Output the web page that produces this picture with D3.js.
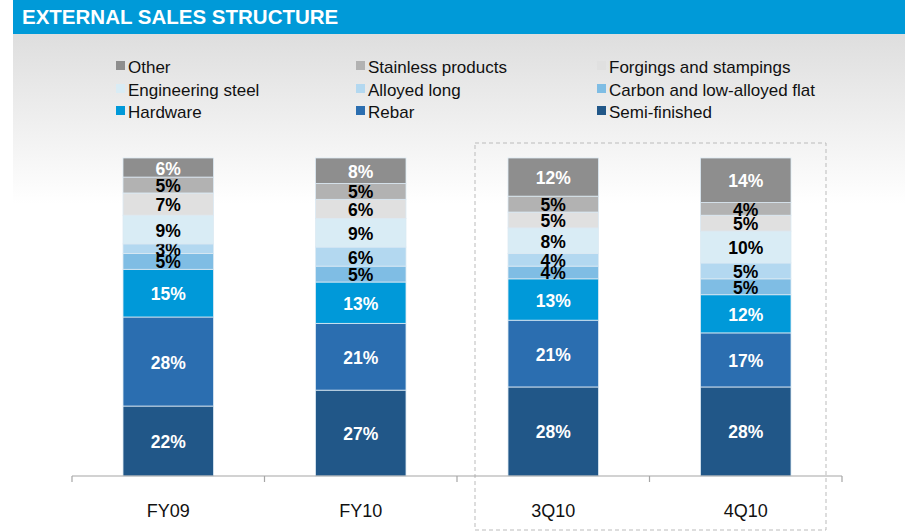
<!DOCTYPE html>
<html>
<head>
<meta charset="utf-8">
<script src="https://cdn.jsdelivr.net/npm/d3@7"></script>
<style>
  body { margin: 0; background: #fff; }
  svg { display: block; font-family: "Liberation Sans", Arial, sans-serif; }
</style>
</head>
<body>
<div id="chart"></div>
<script>
// data
var categories = ['FY09', 'FY10', '3Q10', '4Q10'];
var series = ['Semi-finished', 'Rebar', 'Hardware', 'Carbon and low-alloyed flat',
              'Alloyed long', 'Engineering steel', 'Forgings and stampings',
              'Stainless products', 'Other'];
var semiFinished = [22, 27, 28, 28];
var rebar        = [28, 21, 21, 17];
var hardware     = [15, 13, 13, 12];
var carbonFlat   = [5, 5, 4, 5];
var alloyedLong  = [3, 6, 4, 5];
var engineering  = [9, 9, 8, 10];
var forgings     = [7, 6, 5, 5];
var stainless    = [5, 5, 5, 4];
var other        = [6, 8, 12, 14];
var legendOrder = ['Other', 'Stainless products', 'Forgings and stampings',
                   'Engineering steel', 'Alloyed long', 'Carbon and low-alloyed flat',
                   'Hardware', 'Rebar', 'Semi-finished'];

var colors = {
    'Semi-finished': '#215788',
    'Rebar': '#2b6eb0',
    'Hardware': '#0099d9',
    'Carbon and low-alloyed flat': '#7fbde4',
    'Alloyed long': '#b3d8f0',
    'Engineering steel': '#d9ecf5',
    'Forgings and stampings': '#e0e0e0',
    'Stainless products': '#b2b2b2',
    'Other': '#8e8e8e'
};
var whiteText = {'Semi-finished': 1, 'Rebar': 1, 'Hardware': 1, 'Other': 1};

var values = [semiFinished, rebar, hardware, carbonFlat, alloyedLong,
              engineering, forgings, stainless, other];
var table = categories.map(function(c, i) {
    var row = {cat: c};
    series.forEach(function(s, j) { row[s] = values[j][i]; });
    return row;
});

var W = 908, H = 532;
var svg = d3.select('#chart').append('svg').attr('width', W).attr('height', H);

// background gradient under header
var defs = svg.append('defs');
var grad = defs.append('linearGradient').attr('id', 'bg').attr('x1', 0).attr('y1', 0).attr('x2', 0).attr('y2', 1);
grad.append('stop').attr('offset', '0%').attr('stop-color', '#dedede');
grad.append('stop').attr('offset', '100%').attr('stop-color', '#ffffff');
svg.append('rect').attr('x', 13).attr('y', 34).attr('width', 892).attr('height', 170).attr('fill', 'url(#bg)');

// header
svg.append('rect').attr('x', 13).attr('y', 0).attr('width', 892).attr('height', 34).attr('fill', '#009ad8');
svg.append('text').attr('x', 22).attr('y', 24).attr('fill', '#fff')
   .attr('font-size', 20.5).attr('font-weight', 'bold').text('EXTERNAL SALES STRUCTURE');

// legend
var legendCols = [116, 356, 597], legendRows = [66, 89, 111];
var lg = svg.append('g').selectAll('g').data(legendOrder).enter().append('g')
    .attr('transform', function(d, i) {
        return 'translate(' + legendCols[i % 3] + ',' + legendRows[Math.floor(i / 3)] + ')';
    });
lg.append('rect').attr('x', 0).attr('y', -5).attr('width', 9).attr('height', 9)
  .attr('fill', function(d) { return colors[d]; });
lg.append('text').attr('x', 12).attr('y', 6.5).attr('font-size', 17).attr('fill', '#111')
  .text(function(d) { return d; });

// scales
var x = d3.scaleBand().domain(categories).range([72, 842]).paddingInner(0.53).paddingOuter(0.265);
var y = d3.scaleLinear().domain([0, 100]).range([476, 158]);

// dashed highlight box
svg.append('rect').attr('x', 475).attr('y', 143).attr('width', 351).attr('height', 387)
   .attr('fill', 'none').attr('stroke', '#bbb').attr('stroke-dasharray', '4,3');

var stacked = d3.stack().keys(series)(table);

var layers = svg.append('g').selectAll('g').data(stacked).enter().append('g')
    .attr('fill', function(d) { return colors[d.key]; });
layers.selectAll('rect').data(function(d) { return d; }).enter().append('rect')
    .attr('x', function(d) { return x(d.data.cat); })
    .attr('width', x.bandwidth())
    .attr('y', function(d) { return y(d[1]); })
    .attr('height', function(d) { return y(d[0]) - y(d[1]); })
    .attr('stroke', '#dbe9f3').attr('stroke-width', 0.8);

layers.selectAll('text').data(function(d) {
        return d.map(function(p) { p.key = d.key; return p; });
    }).enter().append('text')
    .attr('x', function(d) { return x(d.data.cat) + x.bandwidth() / 2; })
    .attr('y', function(d) { return (y(d[0]) + y(d[1])) / 2 + 7; })
    .attr('text-anchor', 'middle')
    .attr('font-size', 17.5).attr('font-weight', 'bold')
    .attr('fill', function(d) { return whiteText[d.key] ? '#fff' : '#000'; })
    .text(function(d) { return (d[1] - d[0]) + '%'; });

// axis
var axis = svg.append('g').attr('transform', 'translate(0,476)');
axis.append('line').attr('x1', 72).attr('x2', 842).attr('stroke', '#a6a6a6').attr('stroke-width', 1.2);
var ticks = categories.map(function(c) { return x(c) - x.step() * x.paddingInner() / 2; });
ticks.push(842);
axis.selectAll('.tick').data(ticks).enter().append('line')
    .attr('x1', function(d) { return d; }).attr('x2', function(d) { return d; })
    .attr('y1', 0).attr('y2', 6).attr('stroke', '#a6a6a6').attr('stroke-width', 1.2);
axis.selectAll('.lab').data(categories).enter().append('text')
    .attr('x', function(d) { return x(d) + x.bandwidth() / 2; })
    .attr('y', 41).attr('text-anchor', 'middle').attr('font-size', 18).attr('fill', '#111')
    .text(function(d) { return d; });
</script>
</body>
</html>
